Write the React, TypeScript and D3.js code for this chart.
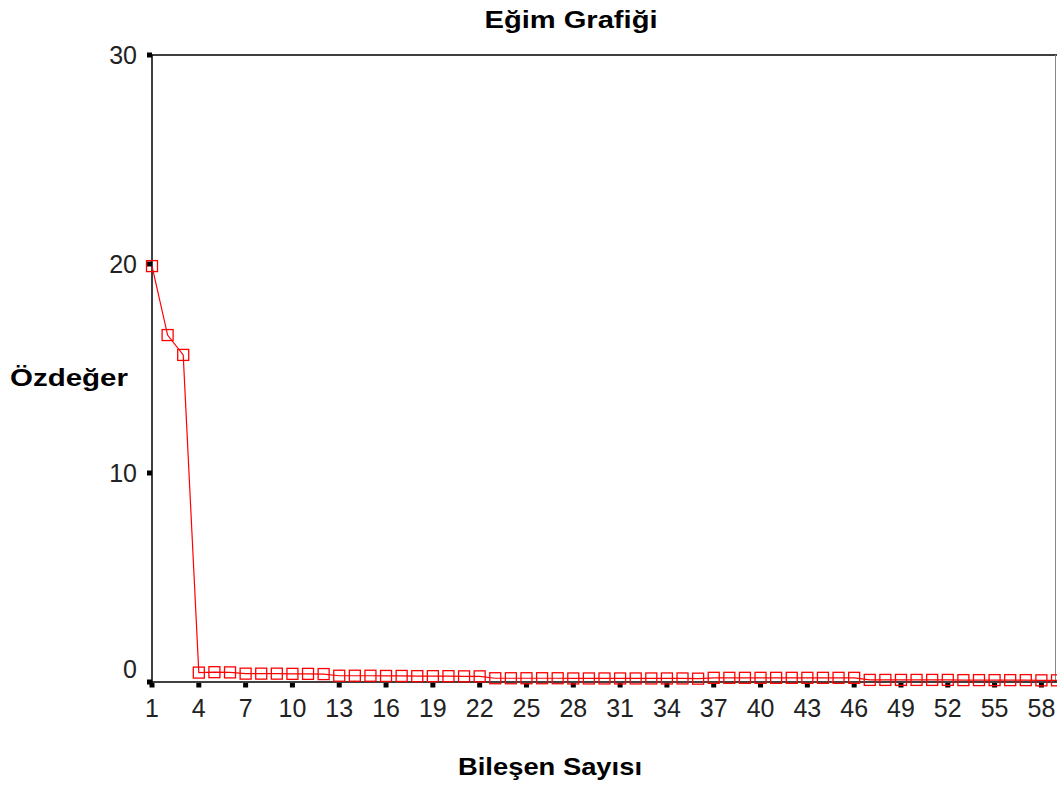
import React from "react";
import * as d3 from "d3";

const components: number[] = d3.range(1, 60);
const eigenvalues: number[] = [
  19.9, 16.6, 15.65, 0.45, 0.47, 0.46, 0.4, 0.4, 0.4, 0.39, 0.39, 0.38,
  0.3, 0.3, 0.3, 0.29, 0.29, 0.28, 0.28, 0.28, 0.27, 0.27,
  0.18, 0.18, 0.18, 0.18, 0.18, 0.17, 0.17, 0.17, 0.17, 0.17, 0.17, 0.17, 0.17, 0.16,
  0.2, 0.2, 0.2, 0.2, 0.2, 0.2, 0.2, 0.2, 0.2, 0.2,
  0.1, 0.1, 0.1, 0.1, 0.1, 0.1, 0.09, 0.09, 0.09, 0.09, 0.09, 0.08, 0.08,
];
const xTicks: number[] = [1, 4, 7, 10, 13, 16, 19, 22, 25, 28, 31, 34, 37, 40, 43, 46, 49, 52, 55, 58];
const yTicks: number[] = [0, 10, 20, 30];
const title = "Eğim Grafiği";
const xTitle = "Bileşen Sayısı";
const yTitle = "Özdeğer";

export default function App() {
  const W = 1057, H = 785;
  const x = d3.scaleLinear().domain([1, 59]).range([152, 1057]);
  const y = d3.scaleLinear().domain([0, 30]).range([682, 55]);
  const pts = components.map((c, i) => [x(c), y(eigenvalues[i])] as [number, number]);
  const line = d3.line()(pts) || "";
  const font = "'Liberation Sans', Arial, sans-serif";
  return (
    <svg width={W} height={H} style={{ position: "absolute", left: 0, top: 0, background: "#fff" }}>
      <rect x={0} y={0} width={W} height={H} fill="#fff" />
      <text x={571} y={28} textAnchor="middle" fontFamily={font} fontWeight="bold" fontSize={24}
        textLength={173} lengthAdjust="spacingAndGlyphs" fill="#000">{title}</text>
      {/* frame */}
      <line x1={152} y1={55} x2={W} y2={55} stroke="#000" strokeWidth={1.5} />
      <line x1={1055.5} y1={55} x2={1055.5} y2={682} stroke="#888" strokeWidth={1} />
      <line x1={152} y1={55} x2={152} y2={683} stroke="#000" strokeWidth={1.5} />
      <line x1={151} y1={682} x2={W} y2={682} stroke="#000" strokeWidth={1.5} />
      {yTicks.map((t) => (
        <g key={"y" + t}>
          <rect x={147} y={y(t) - 2.5} width={5} height={5} fill="#000" />
          <text x={137} y={t === 0 ? 678 : y(t) + 9} textAnchor="end" fontFamily={font} fontSize={25} fill="#222">{t}</text>
        </g>
      ))}
      {xTicks.map((t) => (
        <g key={"x" + t}>
          <rect x={x(t) - 2.5} y={683} width={5} height={4.5} fill="#000" />
          <text x={x(t)} y={717} textAnchor="middle" fontFamily={font} fontSize={25} fill="#222">{t}</text>
        </g>
      ))}
      <path d={line} fill="none" stroke="#ff0000" strokeWidth={1.2} />
      {pts.map(([px, py], i) => (
        <rect key={i} x={px - 5.5} y={py - 5.5} width={11} height={11} fill="none" stroke="#ff0000" strokeWidth={1.3} />
      ))}
      <text x={69} y={386} textAnchor="middle" fontFamily={font} fontWeight="bold" fontSize={24}
        textLength={118} lengthAdjust="spacingAndGlyphs" fill="#000">{yTitle}</text>
      <text x={550} y={775} textAnchor="middle" fontFamily={font} fontWeight="bold" fontSize={24}
        textLength={184} lengthAdjust="spacingAndGlyphs" fill="#000">{xTitle}</text>
    </svg>
  );
}
